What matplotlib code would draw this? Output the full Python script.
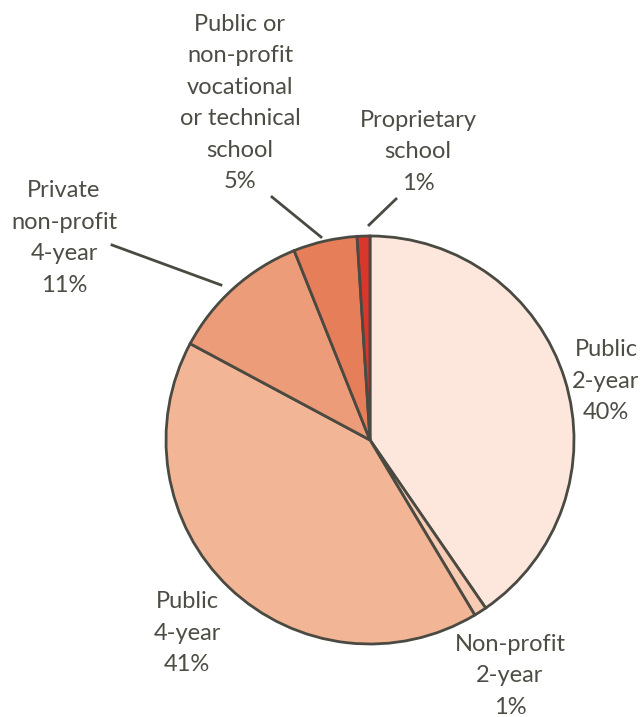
import numpy as np
import matplotlib.pyplot as plt

# Share of students by type of institution
labels = ["Public\n2-year", "Non-profit\n2-year", "Public\n4-year",
          "Private\nnon-profit\n4-year",
          "Public or\nnon-profit\nvocational\nor technical\nschool",
          "Proprietary\nschool"]
shares = [40, 1, 41, 11, 5, 1]
colors = ["#fde7dc", "#f8cbb4", "#f2b595", "#ec9c78", "#e77e5a", "#d9362c"]

edge = "#4a4a42"
txt = "#4d4d45"

W, H = 641, 717
cx, cy, r = 370, 440, 204

fig = plt.figure(figsize=(W / 100, H / 100), dpi=100)
ax = fig.add_axes([(cx - r) / W, (H - cy - r) / H, 2 * r / W, 2 * r / H])
ax.pie(shares, colors=colors, startangle=90, counterclock=False,
       wedgeprops=dict(edgecolor=edge, linewidth=2.0))
ax.set_xlim(-1, 1)
ax.set_ylim(-1, 1)
ax.set_aspect("auto")
ax.axis("off")


def px(x, y):
    # pixel position -> data coords of the pie axes
    return (x - cx) / r, (cy - y) / r


# label centres and leader lines (pixel positions)
label_pos = [(606, 381), (510, 676), (187, 633), (64, 238), (240, 103), (418, 152)]
leaders = {3: ((112, 245), (221, 285)),
           4: ((272, 197), (321, 237)),
           5: ((396, 199), (369, 225))}

for i, (lab, val) in enumerate(zip(labels, shares)):
    x, y = px(*label_pos[i])
    ax.text(x, y, f"{lab}\n{val}%", ha="center", va="center",
            fontsize=17, color=txt, family=["Lato", "DejaVu Sans"],
            linespacing=1.62, clip_on=False)
    if i in leaders:
        (x0, y0), (x1, y1) = leaders[i]
        ax.plot(*zip(px(x0, y0), px(x1, y1)), color=edge, lw=2.0, clip_on=False)

fig.savefig("out.png", dpi=100)
